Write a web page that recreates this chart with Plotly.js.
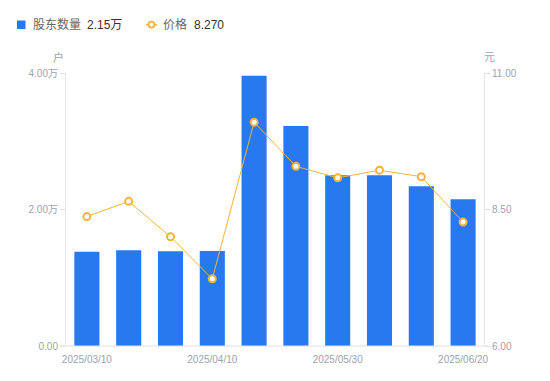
<!DOCTYPE html>
<html>
<head>
<meta charset="utf-8">
<script src="https://cdn.plot.ly/plotly-3.0.1.min.js"></script>
<style>html,body{margin:0;padding:0;background:#fff;}#chart{width:550px;height:381px;}</style>
</head>
<body>
<div id="chart"></div>
<script>
// ---- data ----
const dates = ['2025/03/10','2025/03/20','2025/03/31','2025/04/10','2025/04/18','2025/04/30','2025/05/30','2025/06/10','2025/06/13','2025/06/20'];
const holders = [13820, 14020, 13880, 13920, 39600, 32230, 25010, 25030, 23400, 21500];
const price = [8.37, 8.65, 8.00, 7.23, 10.10, 9.29, 9.08, 9.22, 9.10, 8.27];
const shownDates = ['2025/03/10','2025/04/10','2025/05/30','2025/06/20'];
const leftTickVals = [0, 20000, 40000];
const leftTickText = ['0.00', '2.00万', '4.00万'];
const rightTickVals = [6, 8.5, 11];
const rightTickText = ['6.00', '8.50', '11.00'];
const seriesNames = ['股东数量', '价格'];

// ---- layout helpers ----
const W = 550, H = 381;
const M = {l: 66, r: 66, t: 73, b: 35};
const PW = W - M.l - M.r, PH = H - M.t - M.b;
const px = x => (x - M.l) / PW;
const py = y => (H - M.b - y) / PH;

const BLUE = '#2878F0';
const ORANGE = '#F7B33D';
const TICK = '#A0A2AE';
const CJK = '"Liberation Sans", Arial, "Noto Sans CJK SC", sans-serif';

const lastH = (holders[holders.length - 1] / 10000).toFixed(2) + '万';
const lastP = price[price.length - 1].toFixed(3);

const traces = [
  {
    type: 'bar', x: dates, y: holders, name: seriesNames[0],
    marker: {color: BLUE, line: {width: 0}}, width: 0.6,
    hoverinfo: 'skip'
  },
  {
    type: 'scatter', mode: 'lines+markers', x: dates, y: price, name: seriesNames[1], yaxis: 'y2',
    line: {color: ORANGE, width: 1},
    marker: {symbol: 'circle', size: 7, color: '#fff', line: {color: ORANGE, width: 2}},
    hoverinfo: 'skip', cliponaxis: false
  }
];

const layout = {
  width: W, height: H,
  margin: M,
  paper_bgcolor: '#fff', plot_bgcolor: '#fff',
  showlegend: false,
  font: {family: CJK, size: 10, color: TICK},
  xaxis: {
    type: 'category', range: [-0.5, dates.length - 0.5], tickvals: shownDates, ticktext: shownDates,
    showgrid: false, zeroline: false, showline: false,
    ticks: '', tickfont: {size: 10, color: TICK, family: CJK},
    ticklabelstandoff: 6, fixedrange: true
  },
  yaxis: {
    range: [0, 40000], tickvals: leftTickVals, ticktext: leftTickText,
    showgrid: false, zeroline: false, showline: true, linecolor: '#E6E6E6', linewidth: 1,
    ticks: 'outside', ticklen: 5, tickcolor: '#E0E0E0',
    tickfont: {size: 10, color: TICK, family: CJK}, fixedrange: true
  },
  yaxis2: {
    range: [6, 11], tickvals: rightTickVals, ticktext: rightTickText,
    overlaying: 'y', side: 'right',
    showgrid: false, zeroline: false, showline: true, linecolor: '#E6E6E6', linewidth: 1,
    ticks: 'outside', ticklen: 5, tickcolor: '#E0E0E0',
    tickfont: {size: 10, color: TICK, family: CJK}, fixedrange: true
  },
  shapes: [
    {type: 'line', xref: 'paper', yref: 'paper', x0: px(60), x1: px(488), y0: 0, y1: 0,
     line: {color: '#E0E0E0', width: 1}},
    // legend icons
    {type: 'rect', xref: 'paper', yref: 'paper', x0: px(17), x1: px(25.5), y0: py(29), y1: py(20.5),
     fillcolor: BLUE, line: {width: 0}},
    {type: 'line', xref: 'paper', yref: 'paper', x0: px(146), x1: px(157), y0: py(24.6), y1: py(24.6),
     line: {color: ORANGE, width: 1.5}},
    {type: 'circle', xref: 'paper', yref: 'paper', x0: px(148.5), x1: px(154.5), y0: py(27.6), y1: py(21.6),
     fillcolor: '#fff', line: {color: ORANGE, width: 1.8}}
  ],
  annotations: [
    {xref: 'paper', yref: 'paper', x: px(30.5), y: py(24.6), xanchor: 'left', yanchor: 'middle',
     text: seriesNames[0], showarrow: false, font: {family: CJK, size: 12, color: '#666'}},
    {xref: 'paper', yref: 'paper', x: px(85), y: py(24.6), xanchor: 'left', yanchor: 'middle',
     text: lastH, showarrow: false, font: {family: CJK, size: 12, color: '#333'}},
    {xref: 'paper', yref: 'paper', x: px(161), y: py(24.6), xanchor: 'left', yanchor: 'middle',
     text: seriesNames[1], showarrow: false, font: {family: CJK, size: 12, color: '#666'}},
    {xref: 'paper', yref: 'paper', x: px(191.5), y: py(24.6), xanchor: 'left', yanchor: 'middle',
     text: lastP, showarrow: false, font: {family: CJK, size: 12, color: '#333'}},
    // axis names
    {xref: 'paper', yref: 'paper', x: px(58.5), y: py(57), xanchor: 'center', yanchor: 'middle',
     text: '户', showarrow: false, font: {family: CJK, size: 11, color: TICK}},
    {xref: 'paper', yref: 'paper', x: px(489.5), y: py(57), xanchor: 'center', yanchor: 'middle',
     text: '元', showarrow: false, font: {family: CJK, size: 11, color: TICK}}
  ]
};

Plotly.newPlot('chart', traces, layout, {staticPlot: true, displayModeBar: false});
</script>
</body>
</html>
